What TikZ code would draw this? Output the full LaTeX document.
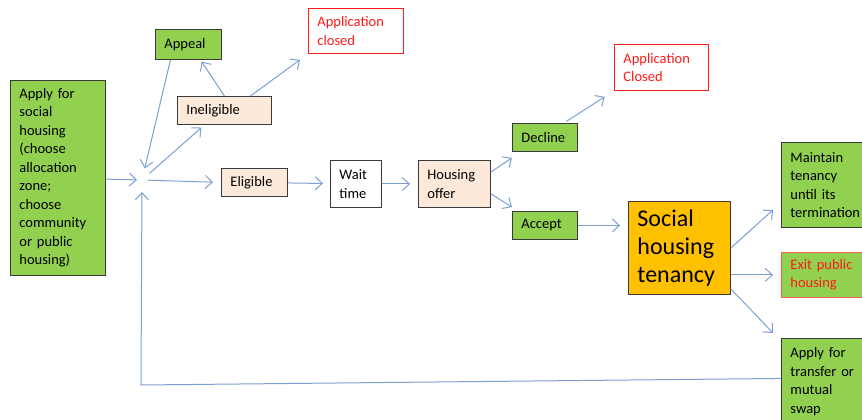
\documentclass[tikz,border=0pt]{standalone}
\usepackage{fontspec}
\setmainfont{Carlito}
\usetikzlibrary{arrows.meta}

\definecolor{boxgreen}{HTML}{92D050}
\definecolor{boxpeach}{HTML}{FDE9D9}
\definecolor{boxorange}{HTML}{FFC000}
\definecolor{boxline}{HTML}{3A3A3A}
\definecolor{closedred}{HTML}{FF1A1A}
\definecolor{exitred}{HTML}{F0605A}
\definecolor{arrowblue}{RGB}{125,160,210}

\begin{document}
\begin{tikzpicture}[
        x=1pt, y=-1pt,
        box/.style={draw=boxline, line width=0.9pt, anchor=north west, align=left,
            inner xsep=9pt, inner ysep=0pt, text=black,
            font=\fontsize{14.5}{18.5}\selectfont},
        greenbox/.style={box, fill=boxgreen},
        peachbox/.style={box, fill=boxpeach},
        whitebox/.style={box, fill=white},
        closedbox/.style={box, fill=white, draw=closedred, text=closedred},
        bigbox/.style={box, fill=boxorange, font=\fontsize{24}{28}\selectfont},
        arrow/.style={-{Straight Barb[length=7pt,width=13pt]}, draw=arrowblue, line width=1pt}
    ]

    \path[use as bounding box, fill=white] (0,0) rectangle (862,420);

    % Nodes
    \node[greenbox, text width=77pt, minimum height=195pt] (apply) at (10,80)
        {Apply for\\social\\housing\\(choose\\allocation\\zone;\\choose\\community\\or public\\housing)};
    \node[greenbox, text width=48pt, minimum height=30pt] (appeal) at (155,29) {Appeal};
    \node[closedbox, text width=77pt, minimum height=45pt] (closedtop) at (308,8) {Application\\closed};
    \node[peachbox, text width=76pt, minimum height=28pt] (inelig) at (177,96) {Ineligible};
    \node[peachbox, text width=48pt, minimum height=28pt] (elig) at (221,168) {Eligible};
    \node[whitebox, text width=33pt, minimum height=47pt] (wait) at (330,160) {Wait\\time};
    \node[peachbox, text width=54pt, minimum height=47pt] (offer) at (418,160) {Housing\\offer};
    \node[greenbox, text width=47pt, minimum height=28pt] (decline) at (512,123) {Decline};
    \node[closedbox, text width=76pt, minimum height=46pt] (closedmid) at (614,44) {Application\\Closed};
    \node[greenbox, text width=47pt, minimum height=28pt] (accept) at (512,211) {Accept};
    \node[bigbox, text width=84pt, minimum height=93pt] (tenancy) at (628,201) {Social\\housing\\tenancy};
    \node[greenbox, text width=82pt, minimum height=85pt] (maintain) at (781,142) {Maintain\\tenancy\\until its\\termination};
    \node[greenbox, draw=exitred, text=closedred, text width=82pt, minimum height=45pt] (exit) at (781,252) {Exit public\\housing};
    \node[greenbox, text width=82pt, minimum height=86pt] (transfer) at (781,338) {Apply for\\transfer or\\mutual\\swap};

    \coordinate (hub) at (142,180);
    \coordinate (loop) at (141,385);

    % Arrows
    \draw[arrow, shorten >=5pt] (apply) -- (hub);
    \draw[arrow, shorten >=12pt] ([xshift=-18pt]appeal.south) -- (hub);
    \draw[arrow, shorten <=10pt, shorten >=4pt] (hub) -- ([xshift=-20pt]inelig.south);
    \draw[arrow, shorten <=6pt, shorten >=8pt] (hub) -- (elig.west);
    \draw[arrow, shorten >=12pt] ([yshift=3pt]transfer.west) -- (loop) -- (hub);
    \draw[arrow, shorten >=2pt] (inelig.north) -- ([xshift=12pt]appeal.south);
    \draw[arrow, shorten >=10pt] ([xshift=26pt]inelig.north) -- (closedtop.south west);
    \draw[arrow, shorten >=7pt] (elig) -- (wait);
    \draw[arrow, shorten >=8pt] (wait) -- (offer);
    \draw[arrow] ([yshift=12pt]offer.east) -- ([yshift=-6pt]decline.south west);
    \draw[arrow] ([yshift=-10pt]offer.east) -- ([yshift=4pt]accept.north west);
    \draw[arrow, shorten <=3pt, shorten >=11pt] ([xshift=-14pt]decline.north east) -- (closedmid.south west);
    \draw[arrow, shorten >=8pt] (accept.east) -- (accept.east -| tenancy.west);
    \draw[arrow] (tenancy.east) -- ([shift={(-8pt,18pt)}]maintain.south west);
    \draw[arrow, shorten >=8pt] (tenancy.east |- exit.west) -- (exit.west);
    \draw[arrow] ([yshift=6pt]tenancy.south east) -- ([shift={(-8pt,5pt)}]transfer.north west);

\end{tikzpicture}
\end{document}
